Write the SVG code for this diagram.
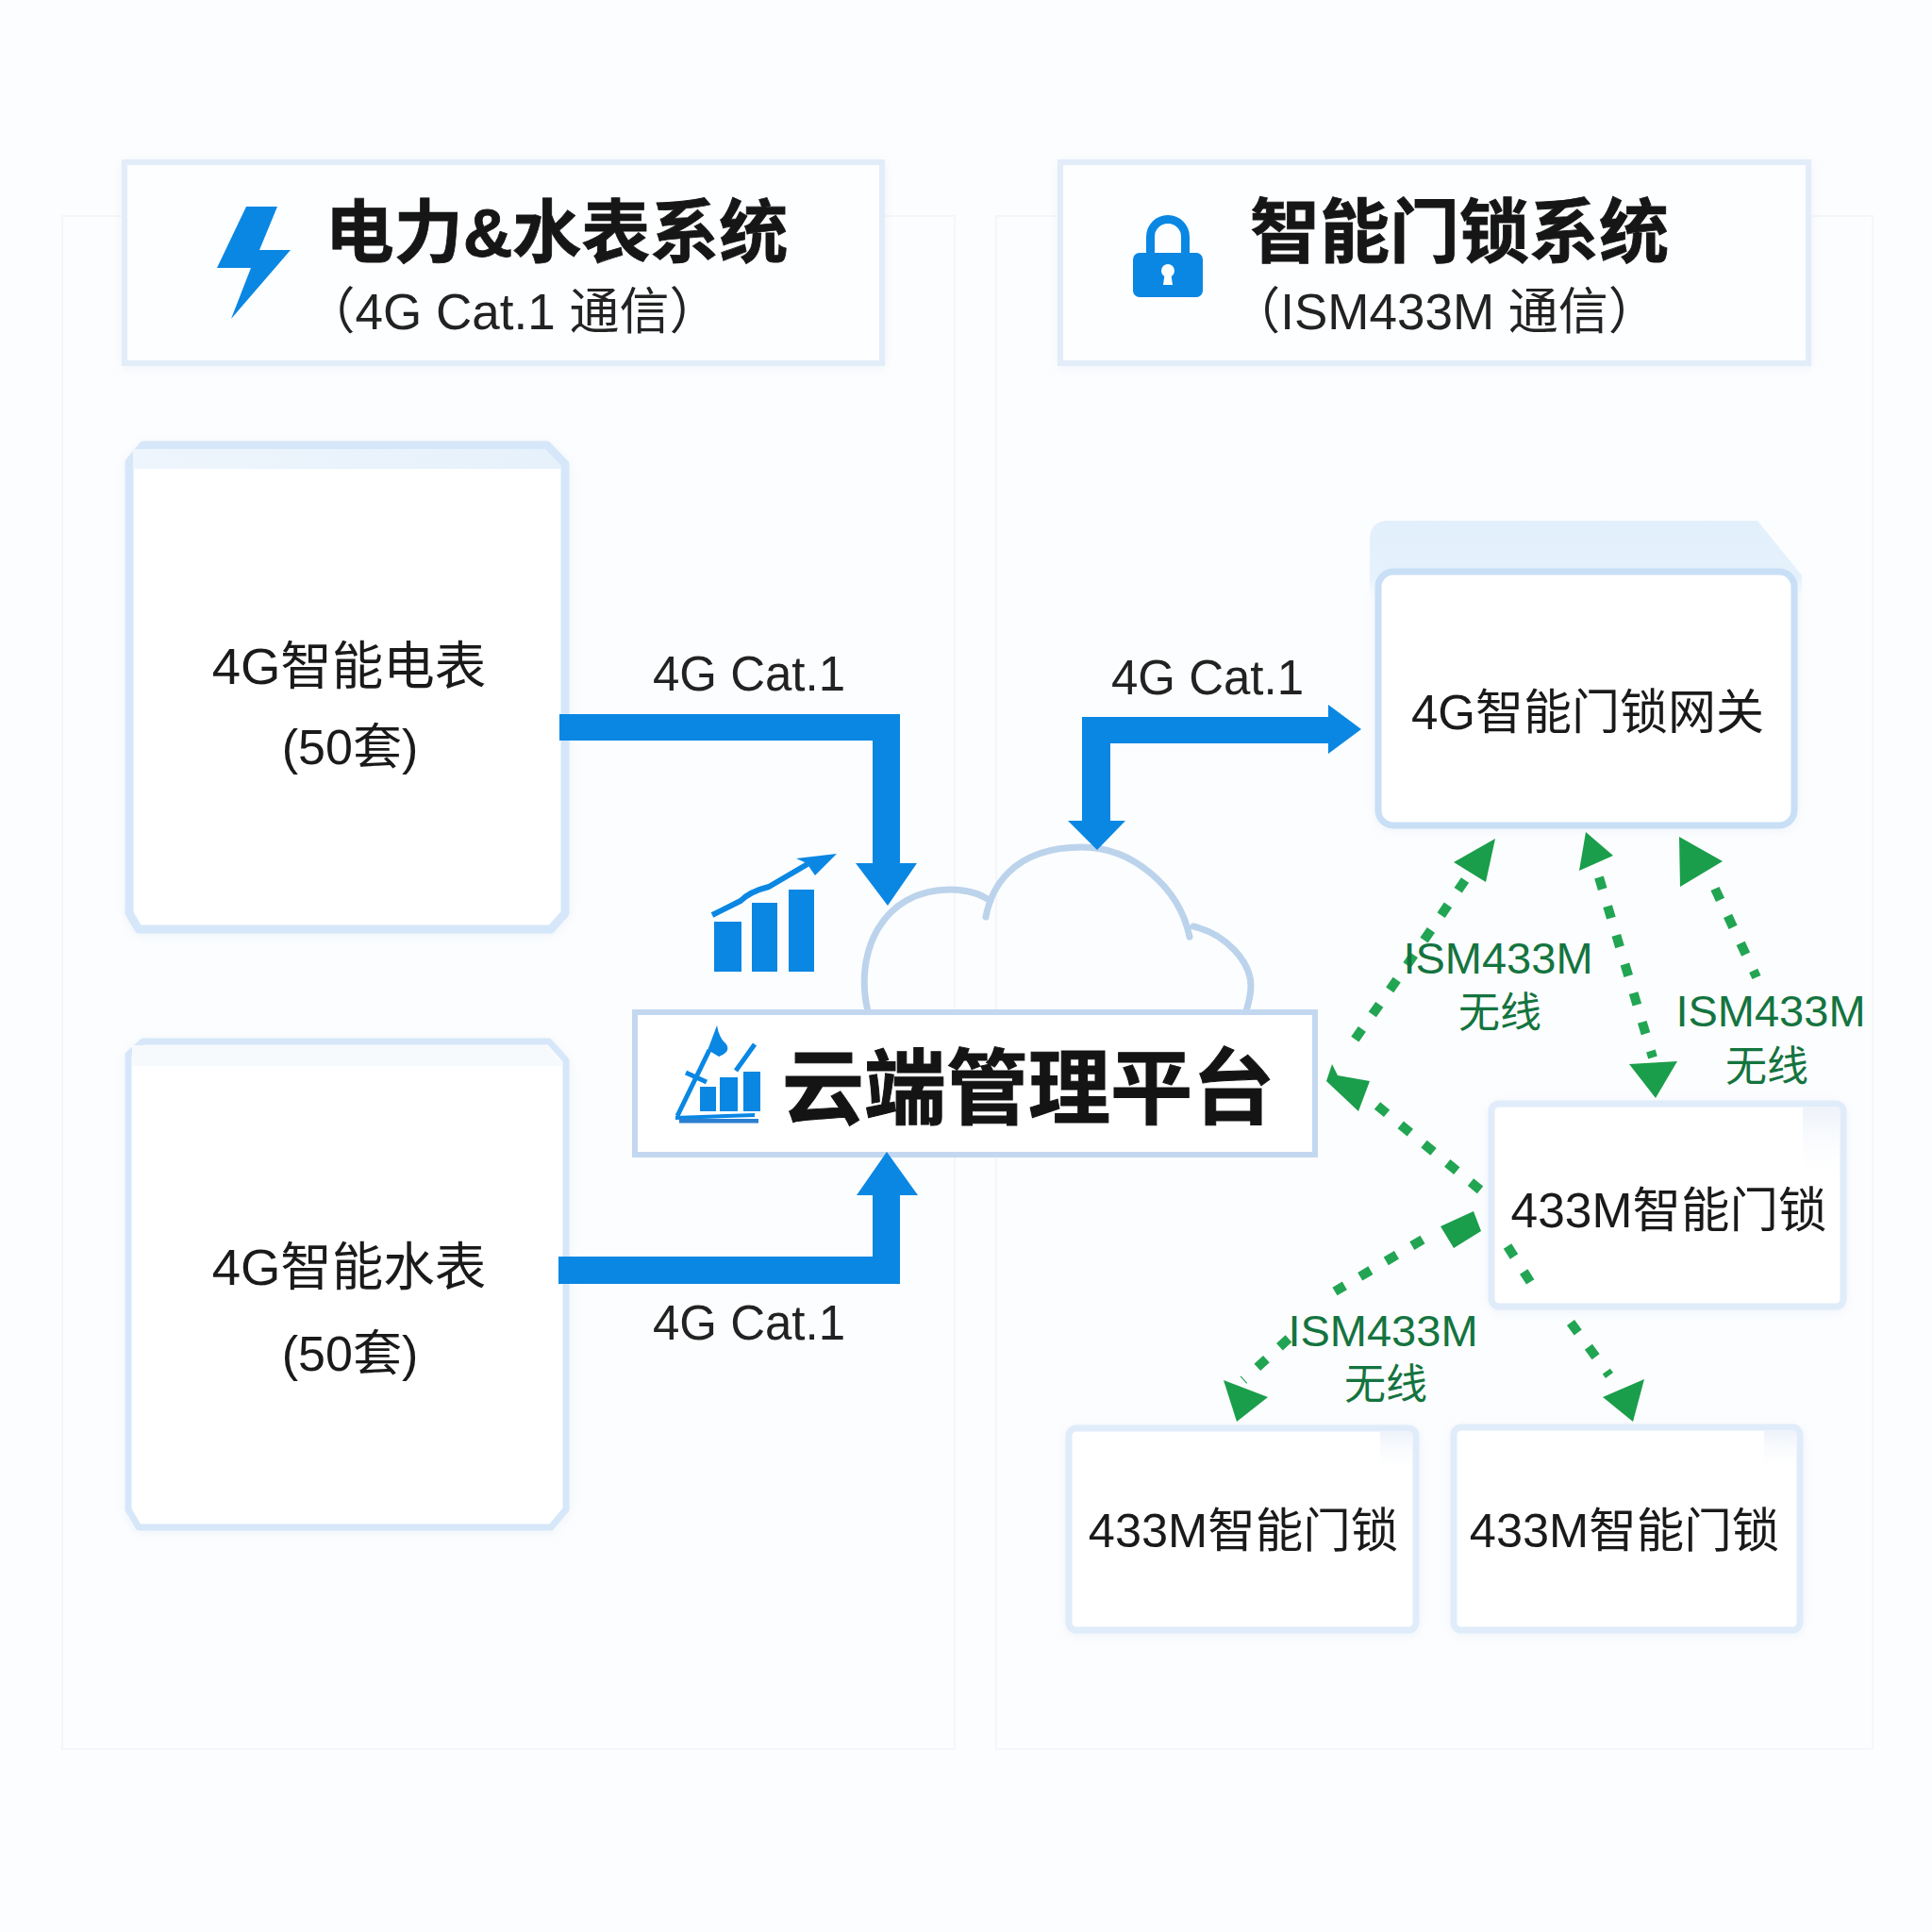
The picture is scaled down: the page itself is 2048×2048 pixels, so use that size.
<svg xmlns="http://www.w3.org/2000/svg" width="2048" height="2048" viewBox="0 0 2048 2048">
<defs>
<style>
text{font-family:"Liberation Sans","Noto Sans CJK SC",sans-serif;text-anchor:middle;fill:#1a1a1a}
.h{font-size:73px;font-weight:700;fill:#161616;stroke:#161616;stroke-width:.8}
.s{font-size:53px;fill:#222}
.n{font-size:54.5px}
.p{font-size:52px}
.m{font-size:50.500px}
.l{font-size:51px;fill:#222}
.g{font-size:47px;fill:#14743f}
.w{font-size:44px;fill:#14743f}
.box{fill:#fff;stroke:#e0ecfa;stroke-width:7;filter:url(#sh)}
.mb{fill:#fff;stroke:#d6e7f9;stroke-width:9;stroke-linejoin:round;filter:url(#sh)}
.hb{fill:#fdfeff;stroke:#e2edf9;stroke-width:6;filter:url(#sh)}
.pn{fill:#fcfdfe;stroke:#f3f6fa;stroke-width:2}
.bl{fill:#0a87e3}
.gr{fill:#1a9e4b}
.dash{fill:none;stroke:#22a553;stroke-width:10;stroke-dasharray:13 19}
</style>
<filter id="sh" x="-10%" y="-10%" width="120%" height="120%"><feDropShadow dx="0" dy="2" stdDeviation="6" flood-color="#d4e2f2" flood-opacity=".35"/></filter>
<linearGradient id="band" x1="0" y1="0" x2="1" y2="0"><stop offset="0" stop-color="#eef5fc"/><stop offset="1" stop-color="#e6f1fb"/></linearGradient>
<linearGradient id="patch" x1="0" y1="0" x2="0" y2="1"><stop offset="0" stop-color="#eef3fa"/><stop offset="1" stop-color="#ffffff" stop-opacity="0"/></linearGradient>
<linearGradient id="back" x1="0" y1="0" x2="0" y2="1"><stop offset="0" stop-color="#e2f0fc"/><stop offset=".7" stop-color="#e6f2fc"/><stop offset="1" stop-color="#fcfdfe" stop-opacity="0"/></linearGradient>
</defs>
<rect width="2048" height="2048" fill="#fcfdfe"/>
<rect class="pn" x="66" y="229" width="946" height="1625"/>
<rect class="pn" x="1056" y="229" width="929" height="1625"/>

<g id="header-power">
<rect class="hb" x="132" y="172" width="803" height="213"/>
<path class="bl" d="M261 219H294L275 265H308L245 338L266 284H230Z"/>
<text class="h" x="590" y="272">电力&amp;水表系统</text>
<text class="s" x="543" y="349">（4G Cat.1 通信）</text>
</g>
<g id="header-lock">
<rect class="hb" x="1124" y="172" width="793" height="213"/>
<path d="M1219.500 270V251a18.500 18.500 0 0 1 37 0V270" fill="none" stroke="#0a87e3" stroke-width="9"/>
<rect class="bl" x="1201" y="268" width="74" height="47" rx="7"/>
<circle cx="1238" cy="287" r="7" fill="#fff"/><path d="M1235 288h6l2 14h-10z" fill="#fff"/>
<text class="h" x="1547" y="272" style="font-size:74px">智能门锁系统</text>
<text class="s" x="1531" y="349">（ISM433M 通信）</text>
</g>

<g id="meter-power">
<path class="mb" d="M152 472H580L599 492V968L584 985H147L137 968V490Z"/>
<path d="M141 476H578L595 494V497H141Z" fill="url(#band)"/>
<text class="n" x="370" y="725">4G智能电表</text>
<text class="p" x="371" y="810">(50套)</text>
</g>
<g id="meter-water">
<path class="mb" style="stroke-width:7" d="M152 1104H582L600 1124V1600L584 1619H147L136 1600V1118Z"/>
<path d="M140 1108H580L596 1126V1130H140Z" fill="#f7fafd"/>
<text class="n" x="370" y="1362">4G智能水表</text>
<text class="p" x="371" y="1453">(50套)</text>
</g>

<g id="cloud-platform">
<path d="M920 1072C905 1010 935 943 1007 943C1025 943 1040 948 1050 955M1045 972C1050 945 1070 898 1147 898C1200 898 1250 940 1261 993M1265 982C1300 990 1326 1020 1326 1045C1326 1055 1324 1062 1321 1072" fill="none" stroke="#bcd3ec" stroke-width="7" stroke-linecap="round"/>
<rect x="673" y="1073" width="721" height="151" fill="#fff" stroke="#c3d8f0" stroke-width="6"/>
<path class="bl" d="M760 1087Q762 1100 770 1107Q775 1115 762 1120L752 1114L746 1124Z"/>
<path d="M718 1183L752 1113M800 1107L780 1135M727 1137L749 1147" fill="none" stroke="#0a87e3" stroke-width="5"/>
<rect class="bl" x="742" y="1152" width="17" height="26"/><rect class="bl" x="763" y="1142" width="19" height="36"/><rect class="bl" x="788" y="1136" width="18" height="42"/>
<path d="M716 1183L800 1180V1184L716 1187Z" fill="#0a87e3"/>
<rect x="720" y="1186" width="84" height="4.500" fill="#2b7fd0"/>
<text x="1090" y="1185" style="font-size:87px;font-weight:700;fill:#141414;stroke:#141414;stroke-width:1">云端管理平台</text>
</g>
<g id="chart-icon">
<rect class="bl" x="757" y="977" width="29" height="53"/><rect class="bl" x="797" y="957" width="27" height="73"/><rect class="bl" x="836" y="943" width="27" height="87"/>
<path d="M755 970L785 955Q795 945 815 940L856 916" fill="none" stroke="#0a87e3" stroke-width="6"/>
<path class="bl" d="M844 910L887 905L864 928L855 915Z"/>
</g>

<g id="gateway">
<path d="M1472 552H1863L1910 610V640H1452V572Q1452 552 1472 552Z" fill="url(#back)"/>
<rect class="box" x="1461" y="606" width="441" height="269" rx="16" style="stroke:#c8dff6;stroke-width:7"/>
<text class="n" x="1683" y="773" style="font-size:51px">4G智能门锁网关</text>
</g>
<g id="lock-main">
<rect class="box" x="1581" y="1170" width="373" height="215" rx="8"/>
<rect x="1911" y="1174" width="39" height="80" fill="url(#patch)"/>
<text class="m" x="1769" y="1301" style="font-size:51.500px">433M智能门锁</text>
</g>
<g id="lock-left">
<rect class="box" x="1133" y="1514" width="368" height="214" rx="8"/>
<rect x="1463" y="1518" width="34" height="46" fill="url(#patch)"/>
<text class="m" x="1318" y="1640">433M智能门锁</text>
</g>
<g id="lock-right">
<rect class="box" x="1541" y="1513" width="367" height="215" rx="8"/>
<rect x="1870" y="1517" width="34" height="46" fill="url(#patch)"/>
<text class="m" x="1722" y="1640">433M智能门锁</text>
</g>

<g id="connectors">
<path class="bl" d="M593 757H954V915H972L941 960L907 915H925V785H593Z"/>
<path class="bl" d="M592 1332H925V1267H908L940 1221L973 1267H954V1361H592Z"/>
<path class="bl" d="M1147 870V760H1408V747L1443 773L1408 799V788H1177V870H1193L1163 901L1132 870Z"/>

<path class="dash" d="M1553 933L1484 1034L1429 1112"/>
<path class="gr" d="M1585 889L1541 914L1575 935Z"/>
<path class="gr" d="M1412 1128L1406 1146L1440 1178L1452 1146L1418 1140Z"/>
<path class="dash" d="M1460 1172L1571 1263"/>
<path class="dash" d="M1695 930L1752 1121"/>
<path class="gr" d="M1681 882L1674 923L1710 907Z"/>
<path class="gr" d="M1727 1128L1778 1125L1755 1164Z"/>
<path class="dash" d="M1818 942L1862 1036"/>
<path class="gr" d="M1826 913L1780 887L1781 940Z"/>
<path class="gr" d="M1527 1300L1562 1284L1570 1305L1541 1323Z"/>
<path class="dash" d="M1508 1314L1415 1369"/>
<path class="dash" d="M1366 1419L1318 1463"/>
<path class="gr" d="M1297 1463L1344 1481L1311 1507Z"/>
<path class="dash" d="M1598 1321L1628 1368"/>
<path class="dash" d="M1665 1402L1706 1458"/>
<path class="gr" d="M1743 1462L1699 1481L1731 1507Z"/>
</g>
<g id="labels">
<text class="l" x="794" y="732">4G Cat.1</text>
<text class="l" x="794" y="1420">4G Cat.1</text>
<text class="l" x="1280" y="736">4G Cat.1</text>
<text class="g" x="1588" y="1032">ISM433M</text><text class="w" x="1590" y="1089">无线</text>
<text class="g" x="1877" y="1088">ISM433M</text><text class="w" x="1873" y="1146">无线</text>
<text class="g" x="1466" y="1427">ISM433M</text><text class="w" x="1469" y="1483">无线</text>
</g>
</svg>
